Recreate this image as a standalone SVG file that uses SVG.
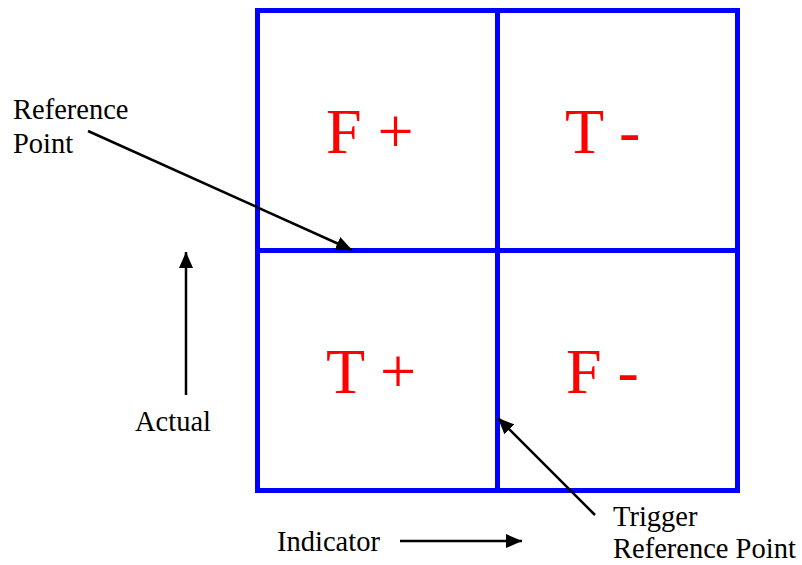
<svg xmlns="http://www.w3.org/2000/svg" width="802" height="565" viewBox="0 0 802 565">
<style>
.grid{fill:none;stroke:#0000ff;stroke-width:5}
.cell{font-family:"Liberation Serif","Times New Roman",serif;font-size:64px;fill:#ff0000}
.lbl{font-family:"Liberation Serif","Times New Roman",serif;font-size:28.5px;fill:#000}
.conn{stroke:#000;stroke-width:2.5;fill:none;marker-end:url(#ah)}
</style>
<defs>
<marker id="ah" markerUnits="userSpaceOnUse" markerWidth="16" markerHeight="14" refX="16" refY="7" orient="auto">
<path d="M0,0 L16,7 L0,14 z" fill="#000"/>
</marker>
</defs>
<rect width="802" height="565" fill="#fff"/>
<g id="grid">
<rect class="grid" x="257.5" y="10.5" width="480" height="480"/>
<line class="grid" x1="497.5" y1="10.5" x2="497.5" y2="490.5"/>
<line class="grid" x1="257.5" y1="250.5" x2="737.5" y2="250.5"/>
</g>
<g id="fplus"><text class="cell" x="326" y="153">F +</text></g>
<g id="tminus"><text class="cell" x="565" y="153">T -</text></g>
<g id="tplus"><text class="cell" x="326" y="393">T +</text></g>
<g id="fminus"><text class="cell" x="566" y="393">F -</text></g>
<g id="ref-label"><text class="lbl" x="13" y="119">Reference</text><text class="lbl" x="13" y="153">Point</text></g>
<g id="actual-label"><text class="lbl" x="135" y="431">Actual</text></g>
<g id="indicator-label"><text class="lbl" x="277" y="551">Indicator</text></g>
<g id="trigger-label"><text class="lbl" x="613" y="526">Trigger</text><text class="lbl" x="613" y="558">Reference Point</text></g>
<g id="connectors">
<line class="conn" x1="88" y1="131" x2="352" y2="250"/>
<line class="conn" x1="186" y1="395" x2="186" y2="252"/>
<line class="conn" x1="595" y1="515" x2="498" y2="418"/>
<line class="conn" x1="400" y1="541" x2="522" y2="541"/>
</g>
</svg>
